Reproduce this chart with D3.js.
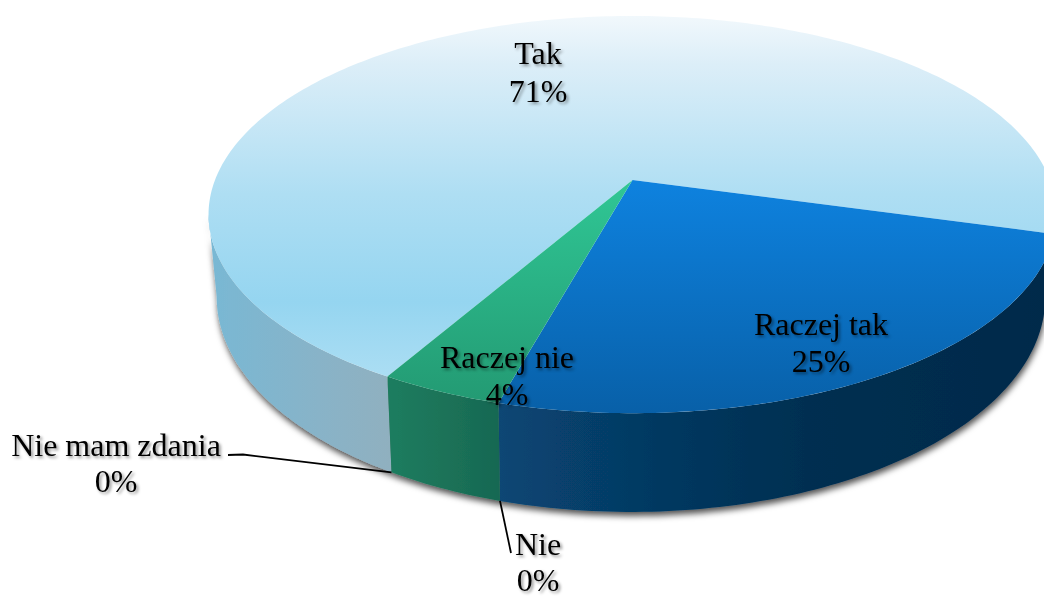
<!DOCTYPE html>
<html><head><meta charset="utf-8">
<script src="https://cdn.jsdelivr.net/npm/d3@7"></script>
<style>
html,body{margin:0;padding:0;background:#fff;overflow:hidden}
svg{display:block}
text{font-family:"Liberation Serif",serif;font-size:32px;fill:#000;text-anchor:middle;filter:drop-shadow(2px 2px 1.5px rgba(0,0,0,.42))}
</style></head><body>
<script>
const categories = ["Tak","Raczej tak","Nie","Raczej nie","Nie mam zdania"];
const values = [71,25,0,4,0];
const topStops = [
 [["0","#f1f8fc"],["0.12","#dceef8"],["0.45","#aedef3"],["0.72","#95d5f0"],["1","#b6e2f5"]],
 [["0","#0e82df"],["1","#0860a8"]],
 [["0","#1d7a5b"],["1","#1d7a5b"]],
 [["0","#30c795"],["1","#239a73"]],
 [["0","#8fb0c0"],["1","#8fb0c0"]]
];
const wallStops = [
 [["0","#78b8d4"],["0.6","#88b3c8"],["1","#90b0bf"]],
 [["0","#084674"],["0.3","#053860"],["0.55","#042f51"],["1","#032a4a"]],
 [["0","#176852"],["1","#176852"]],
 [["0","#1f7d5f"],["1","#176852"]],
 [["0","#90b0bf"],["1","#90b0bf"]]
];

const W=1044,H=599,deg=Math.PI/180;
const startDeg=209.9;
const persp=.174;
const topRing={cx:632.5,cy:180,rx:417.5,ry:192.6};
const botRing={cx:631,cy:259.5,rx:408,ry:208.5};
const leftTangent=260*deg, rightTangent=100*deg;
const project=(ring,a)=>{const X=Math.sin(a),Z=-Math.cos(a),w=1-persp*Z;return [ring.cx+ring.rx*X/w,ring.cy+ring.ry*Z/w];};
const arcs=d3.pie().sort(null).startAngle(startDeg*deg).endAngle((startDeg+360)*deg)(values);
const sample=(a0,a1)=>{const n=Math.max(2,Math.ceil(Math.abs(a1-a0)/deg));return d3.range(n+1).map(i=>a0+(a1-a0)*i/n);};
const line=d3.line();

const svg=d3.select("body").append("svg").attr("width",W).attr("height",H);
const defs=svg.append("defs");
const f=defs.append("filter").attr("id","shadow").attr("x","-10%").attr("y","-10%").attr("width","120%").attr("height","125%");
f.append("feDropShadow").attr("dx",1).attr("dy",4).attr("stdDeviation",3).attr("flood-color","#000").attr("flood-opacity",.68);

const grad=(id,x1,y1,x2,y2,stops)=>{
  const g=defs.append("linearGradient").attr("id",id).attr("gradientUnits","userSpaceOnUse")
   .attr("x1",x1).attr("y1",y1).attr("x2",x2).attr("y2",y2);
  stops.forEach(s=>g.append("stop").attr("offset",s[0]).attr("stop-color",s[1]));
};

const facePts=d=>[[topRing.cx,topRing.cy],...sample(d.startAngle,d.endAngle).map(a=>project(topRing,a))];
// only the front of the ring shows a wall; the first slice's wall ends at the left tangent
const wallPts=(d,i)=>{
  const turn=d.startAngle>=2*Math.PI?2*Math.PI:(d.endAngle>2*Math.PI&&i>0?2*Math.PI:0);
  let a0=d.startAngle-turn,a1=d.endAngle-turn;
  if(i===0) a1=leftTangent;
  if(i===1) a0=rightTangent; // carries on past the page edge
  const s=sample(a0,a1);
  return [...s.map(a=>project(topRing,a)),...s.slice().reverse().map(a=>project(botRing,a))];
};

arcs.forEach((d,i)=>{
  const ys=facePts(d).map(p=>p[1]);
  grad("face"+i,0,i===0?16:d3.min(ys),0,i===0?413:d3.max(ys),topStops[i]);
  const xs=wallPts(d,i).map(p=>p[0]);
  grad("wall"+i,d3.min(xs),0,d3.max(xs)+.01,0,wallStops[i]);
});

const walls=svg.append("g").attr("filter","url(#shadow)");
walls.selectAll("path").data(arcs).join("path")
  .attr("d",(d,i)=>line(wallPts(d,i))+"Z")
  .attr("fill",(d,i)=>`url(#wall${i})`);

svg.append("g").selectAll("path").data(arcs).join("path")
  .attr("d",d=>line(facePts(d))+"Z")
  .attr("fill",(d,i)=>`url(#face${i})`);

// leader lines start on the lower ring at each empty slice
const leaderShape={2:[[511,553]],4:[[243,454.5],[228,455]]};
svg.append("g").selectAll("path").data(arcs.filter(d=>d.value===0)).join("path")
  .attr("d",d=>line([project(botRing,d.startAngle),...leaderShape[d.index]]))
  .attr("fill","none").attr("stroke","#000").attr("stroke-width",1.8);

const labelPos=[[538,64,102],[821,335,372],[538,555,591],[507,368,405],[116,456,492]];
const labels=svg.append("g").selectAll("g").data(arcs).join("g");
labels.append("text").attr("x",(d,i)=>labelPos[i][0]).attr("y",(d,i)=>labelPos[i][1]).text((d,i)=>categories[i]);
labels.append("text").attr("x",(d,i)=>labelPos[i][0]).attr("y",(d,i)=>labelPos[i][2]).text(d=>d.value+"%");
</script>
</body></html>
